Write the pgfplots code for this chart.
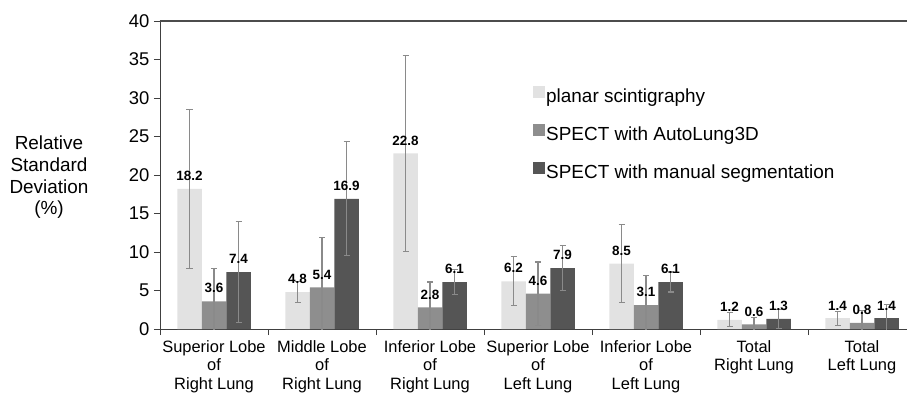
\documentclass[border=0pt]{standalone}
\usepackage{fontspec}
\setmainfont{Liberation Sans}
\usepackage{pgfplots}
\usepackage{pgfplotstable}
\pgfplotsset{compat=1.18}
\definecolor{cPlanar}{HTML}{E2E2E2}
\definecolor{cAuto}{HTML}{8E8E8E}
\definecolor{cMan}{HTML}{555555}
\definecolor{cErr}{HTML}{8A8A8A}
\definecolor{cAxis}{HTML}{404040}
\pgfplotstableread{
x planar perr auto aerr man merr
0 18.2 10.3 3.6 4.3 7.4 6.6
1 4.8 1.4 5.4 6.5 16.9 7.4
2 22.8 12.7 2.8 3.3 6.1 1.6
3 6.2 3.2 4.6 4.1 7.9 2.9
4 8.5 5.1 3.1 3.8 6.1 1.3
5 1.2 0.9 0.6 0.9 1.3 1.2
6 1.4 0.9 0.8 1.6 1.4 1.8
}\datatable
\begin{document}
\begin{tikzpicture}
\begin{axis}[
  scale only axis,
  width=756bp, height=308bp,
  xmin=-0.5, xmax=6.5,
  ymin=0, ymax=40,
  ybar=0pt, bar width=24.5bp,
  axis line style={cAxis, line width=1bp},
  clip mode=individual,
  xtick={0,...,6},
  xticklabels={{Superior Lobe\\of\\Right Lung},{Middle Lobe\\of\\Right Lung},{Inferior Lobe\\of\\Right Lung},{Superior Lobe\\of\\Left Lung},{Inferior Lobe\\of\\Left Lung},{Total\\Right Lung},{Total\\Left Lung}},
  xticklabel style={align=center, font=\fontsize{16.5}{18.5}\selectfont, yshift=-2bp},
  major x tick style={draw=none},
  minor xtick={-0.5,0.5,...,6.5},
  minor tick length=6bp,
  xtick pos=bottom, ytick pos=left,
  tick align=outside,
  ytick={0,5,...,40},
  major tick length=6bp,
  tick style={cAxis, line width=1bp},
  yticklabel style={font=\fontsize{18.5}{20}\selectfont, xshift=-1bp},
  /pgf/number format/assume math mode=true,
  nodes near coords={\pgfmathprintnumber[fixed,precision=1,fixed zerofill]{\pgfplotspointmeta}},
  nodes near coords style={font=\bfseries\fontsize{13.5}{15}\selectfont, inner sep=1bp, anchor=south, yshift=7bp, black},
  error bars/y dir=both, error bars/y explicit,
  error bars/error bar style={cErr, line width=1.2pt},
  error bars/error mark options={rotate=90, mark size=3bp, cErr, line width=1.2pt},
  legend style={at={(rel axis cs:0.4934,0.79)}, anchor=north west, draw=none, fill=none,
    inner sep=0pt, row sep=16bp, font=\fontsize{19}{21}\selectfont,
    nodes={inner sep=1bp, text height=14bp, text depth=4bp}},
  legend cell align=left,
  legend image code/.code={\fill[#1,draw=none] (0bp,0bp) rectangle (12bp,12bp);},
]
\addplot[fill=cPlanar, draw=none] table[x=x, y=planar, y error=perr] {\datatable};
\addplot[fill=cAuto, draw=none] table[x=x, y=auto, y error=aerr] {\datatable};
\addplot[fill=cMan, draw=none] table[x=x, y=man, y error=merr] {\datatable};
\legend{planar scintigraphy, SPECT with AutoLung3D, SPECT with manual segmentation}
\end{axis}
\draw[black!70, line width=1.5bp] (-0.5bp,308bp) -- (760bp,308bp);
\node[align=center, font=\fontsize{19}{21.7}\selectfont] at (-111bp,151.5bp) {Relative\\Standard\\Deviation\\(\%)};
\pgfresetboundingbox
\path (-160bp,-67bp) rectangle (747bp,329bp);
\end{tikzpicture}
\end{document}
